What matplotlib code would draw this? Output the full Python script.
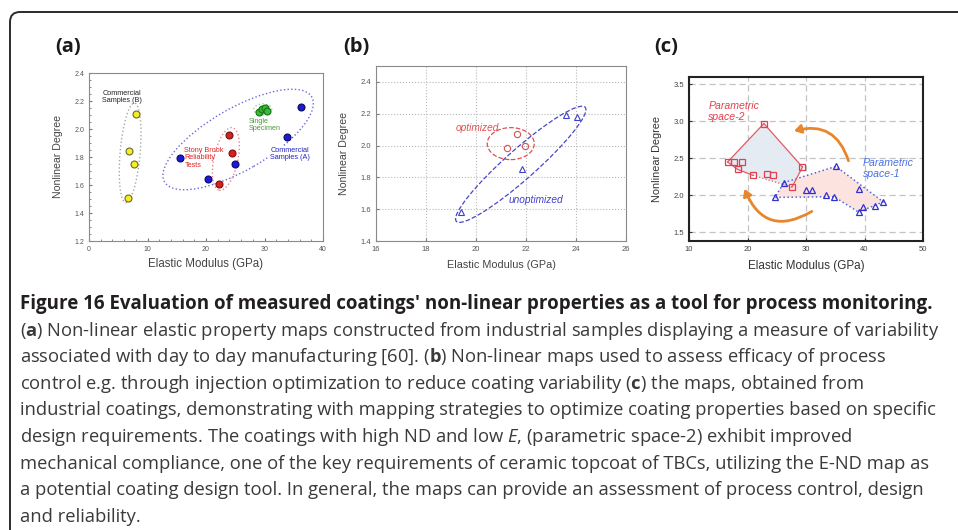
import numpy as np
import matplotlib
matplotlib.use("Agg")
import matplotlib.pyplot as plt
from matplotlib.patches import Ellipse, Polygon, FancyArrowPatch, FancyBboxPatch
from matplotlib.transforms import ScaledTranslation

plt.rcParams['font.family'] = ['Liberation Sans', 'DejaVu Sans']
plt.rcParams['mathtext.fontset'] = 'custom'
plt.rcParams['mathtext.rm'] = 'Open Sans'
plt.rcParams['mathtext.it'] = 'Open Sans:italic'
plt.rcParams['mathtext.bf'] = 'Open Sans:bold'

W, H = 958, 530

# (a) property maps of industrial samples
b_mod = [8.0, 6.8, 7.7, 6.6]
b_nd = [2.11, 1.84, 1.75, 1.51]
a_mod = [15.5, 20.4, 24.9, 33.9, 36.2]
a_nd = [1.79, 1.64, 1.75, 1.94, 2.16]
sb_mod = [23.9, 24.5, 22.2]
sb_nd = [1.96, 1.83, 1.61]
single_mod = [29.0, 29.5, 30.0, 30.4]
single_nd = [2.12, 2.14, 2.15, 2.13]

# (b) injection optimization
opt_mod = [21.25, 21.65, 21.97]
opt_nd = [1.985, 2.07, 1.995]
unopt_mod = [19.4, 21.83, 23.59, 24.05]
unopt_nd = [1.58, 1.85, 2.19, 2.18]

# (c) parametric spaces
s2_mod = [22.8, 16.6, 17.7, 19.0, 18.3, 20.9, 23.4, 24.3, 27.6, 29.4]
s2_nd = [2.97, 2.45, 2.45, 2.45, 2.35, 2.27, 2.29, 2.28, 2.11, 2.38]
s1_mod = [26.2, 24.7, 30.0, 31.1, 33.5, 34.8, 35.1, 39.1, 39.0, 39.8, 41.8, 43.2]
s1_nd = [2.17, 1.97, 2.07, 2.07, 2.00, 1.98, 2.39, 2.09, 1.77, 1.84, 1.86, 1.91]
s2_hull = [0, 1, 4, 5, 8, 9]
s1_hull = [0, 6, 11, 8, 5, 1]

caption_title = "Figure 16 Evaluation of measured coatings' non-linear properties as a tool for process monitoring."
caption_lines = [
    r"($\mathbf{a}$) Non-linear elastic property maps constructed from industrial samples displaying a measure of variability",
    r"associated with day to day manufacturing [60]. ($\mathbf{b}$) Non-linear maps used to assess efficacy of process",
    r"control e.g. through injection optimization to reduce coating variability ($\mathbf{c}$) the maps, obtained from",
    "industrial coatings, demonstrating with mapping strategies to optimize coating properties based on specific",
    r"design requirements. The coatings with high ND and low $\mathit{E}$, (parametric space-2) exhibit improved",
    "mechanical compliance, one of the key requirements of ceramic topcoat of TBCs, utilizing the E-ND map as",
    "a potential coating design tool. In general, the maps can provide an assessment of process control, design",
    "and reliability.",
]


def fx(x):
    return x / W


def fy(y):
    return 1 - y / H


def ring(ax, cx, cy, w, h, ang, color, ls=':', lw=1.0):
    # ellipse sized in pixels, centred on a data point
    tr = ax.figure.dpi_scale_trans + ScaledTranslation(cx, cy, ax.transData)
    ax.add_patch(Ellipse((0, 0), w / 100, h / 100, angle=ang, transform=tr,
                         fill=False, ec=color, ls=ls, lw=lw))


fig = plt.figure(figsize=(W / 100, H / 100), dpi=100)

frame = FancyBboxPatch((0.10, -0.3), 10.0, 5.30 - 0.12 + 0.3,
                       boxstyle='round,pad=0,rounding_size=0.1',
                       transform=fig.dpi_scale_trans, fill=False, ec='#2b2b2b', lw=1.4)
fig.add_artist(frame)

# ---- panel (a)
ax1 = fig.add_axes([fx(89), fy(241), (323 - 89) / W, (241 - 73) / H])
ax1.set_xlim(0, 40)
ax1.set_ylim(1.2, 2.4)
ax1.set_xticks([0, 10, 20, 30, 40])
ax1.set_yticks(np.arange(1.2, 2.41, 0.2))
ax1.minorticks_on()
ax1.tick_params(which='both', direction='in', labelsize=5, colors='#777777', labelcolor='#555555')
ax1.tick_params(which='major', length=2.5)
ax1.tick_params(which='minor', length=1.2)
for s in ax1.spines.values():
    s.set_color('#8a8a8a')
ax1.set_xlabel('Elastic Modulus (GPa)', fontsize=8.3, color='#444444', labelpad=4)
ax1.set_ylabel('Nonlinear Degree', fontsize=7.6, color='#444444', labelpad=8)

ring(ax1, 7.03, 1.83, 20, 100, -5, '#a8a8a8')
ring(ax1, 25.5, 1.925, 170, 62, 30, '#6a6ad8')
ring(ax1, 23.4, 1.786, 24, 64, -12, '#e88a8a')
ring(ax1, 29.7, 2.14, 18, 11, 0, '#9ad49a')

mk = dict(marker='o', ms=5, ls='none', mew=0.8)
ax1.plot(b_mod, b_nd, mfc='#f4ee22', mec='#6e6a20', **mk)
ax1.plot(a_mod, a_nd, mfc='#1a1ad8', mec='#0a0a66', **mk)
ax1.plot(sb_mod, sb_nd, mfc='#d82020', mec='#7a1010', **mk)
ax1.plot(single_mod, single_nd, mfc='#30c030', mec='#1a6e1a', **mk)

ax1.text(5.6, 2.23, 'Commercial\nSamples (B)', fontsize=5.2, color='#222222', ha='center', va='center', linespacing=1.1)
ax1.text(16.3, 1.795, 'Stony Brook\nReliability\nTests', fontsize=5.2, color='#e02424', ha='left', va='center', linespacing=1.1)
ax1.text(27.3, 2.03, 'Single\nSpecimen', fontsize=5.2, color='#4a9a3a', ha='left', va='center', linespacing=1.1)
ax1.text(31.0, 1.82, 'Commercial\nSamples (A)', fontsize=5.2, color='#2020c8', ha='left', va='center', linespacing=1.1,
         bbox=dict(fc='white', ec='none', pad=0.8))

# ---- panel (b)
ax2 = fig.add_axes([fx(376), fy(241), (626 - 376) / W, (241 - 66) / H])
ax2.set_xlim(16, 26)
ax2.set_ylim(1.4, 2.5)
ax2.set_xticks([16, 18, 20, 22, 24, 26])
ax2.set_yticks(np.arange(1.4, 2.41, 0.2))
ax2.grid(True, ls=':', color='#b8b8b8', lw=0.8)
ax2.set_axisbelow(True)
ax2.tick_params(direction='in', length=2.5, labelsize=5.5, colors='#777777', labelcolor='#555555')
for s in ax2.spines.values():
    s.set_color('#8a8a8a')
ax2.set_xlabel('Elastic Modulus (GPa)', fontsize=7.8, color='#444444', labelpad=5)
ax2.set_ylabel('Nonlinear Degree', fontsize=7.6, color='#444444', labelpad=8)

ring(ax2, 21.39, 2.012, 47, 32, 0, '#e05050', ls='--', lw=0.9)
ring(ax2, 21.79, 1.882, 172, 30, 41.5, '#4848c8', ls='--', lw=0.9)
ax2.plot(opt_mod, opt_nd, marker='o', ms=4.5, ls='none', mfc='none', mec='#e05050', mew=0.8)
ax2.plot(unopt_mod, unopt_nd, marker='^', ms=4.5, ls='none', mfc='none', mec='#4040c8', mew=0.8)
ax2.text(20.05, 2.11, 'optimized', fontsize=7.3, style='italic', color='#e05050', ha='center', va='center')
ax2.text(22.4, 1.656, 'unoptimized', fontsize=7.3, style='italic', color='#4040c8', ha='center', va='center')

# ---- panel (c)
ax3 = fig.add_axes([fx(689), fy(241), (923 - 689) / W, (241 - 77) / H])
ax3.set_xlim(10, 50)
ax3.set_ylim(1.38, 3.6)
ax3.set_xticks([10, 20, 30, 40, 50])
ax3.set_yticks([1.5, 2.0, 2.5, 3.0, 3.5])
ax3.grid(True, ls=(0, (5, 3)), color='#c4c4c4', lw=0.9)
ax3.set_axisbelow(True)
ax3.tick_params(direction='in', length=2.5, labelsize=5.5, colors='#333333', labelcolor='#444444')
for s in ax3.spines.values():
    s.set_color('#222222')
    s.set_linewidth(1.5)
ax3.set_xlabel('Elastic Modulus (GPa)', fontsize=8.4, color='#333333', labelpad=5)
ax3.set_ylabel('Nonlinear Degree', fontsize=7.8, color='#333333', labelpad=8)

s2_xy = np.column_stack([s2_mod, s2_nd])[s2_hull]
s1_xy = np.column_stack([s1_mod, s1_nd])[s1_hull]
ax3.add_patch(Polygon(s1_xy, closed=True, fc='#fde3e0', ec='none', zorder=1.5))
ax3.add_patch(Polygon(s2_xy, closed=True, fc='#e5ebf2', ec='none', zorder=1.6))
s1_ring = np.vstack([s1_xy, s1_xy[:1]])
ax3.plot(s1_ring[:, 0], s1_ring[:, 1], ls=':', color='#4a6ad8', lw=1.1, zorder=2)
s2_ring = np.vstack([s2_xy, s2_xy[:1]])
for i in range(len(s2_xy)):
    seg = s2_ring[i:i + 2]
    ax3.plot(seg[:, 0], seg[:, 1], ls=':' if i == 3 else '-', color='#e45a66', lw=0.9, zorder=2)

ax3.plot(s2_mod, s2_nd, marker='s', ms=4, ls='none', mfc='none', mec='#e04050', mew=0.9, zorder=3)
ax3.plot(s1_mod, s1_nd, marker='^', ms=4.5, ls='none', mfc='none', mec='#3030d0', mew=0.9, zorder=3)

for p0, p1, rad in [((37.4, 2.43), (27.5, 2.86), 0.5), ((31.4, 1.80), (19.3, 2.12), -0.6)]:
    ax3.add_patch(FancyArrowPatch(p0, p1, connectionstyle=f'arc3,rad={rad}',
                                  arrowstyle='-|>,head_length=4,head_width=2.5',
                                  color='#e8862c', lw=2.0, zorder=4))

ax3.text(13.3, 3.13, 'Parametric\nspace-2', fontsize=7.6, style='italic', color='#e04050', ha='left', va='center', linespacing=1.15)
ax3.text(39.7, 2.365, 'Parametric\nspace-1', fontsize=7.6, style='italic', color='#4a70e0', ha='left', va='center', linespacing=1.15)

# panel letters
for lx, lab in [(55, '(a)'), (343, '(b)'), (654, '(c)')]:
    fig.text(fx(lx), fy(52), lab, fontsize=14.5, fontweight='bold', family='Open Sans', color='#1a1a1a', va='baseline')

# caption
fig.text(fx(20), fy(309), caption_title, fontsize=13.5, fontweight='bold', family='Open Sans',
         color='#231f20', va='baseline')
for i, line in enumerate(caption_lines):
    fig.text(fx(20), fy(309 + 26.6 * (i + 1)), line, fontsize=13.2, family='Open Sans',
             color='#3a3a3a', va='baseline')

fig.savefig('out.png', dpi=100)
